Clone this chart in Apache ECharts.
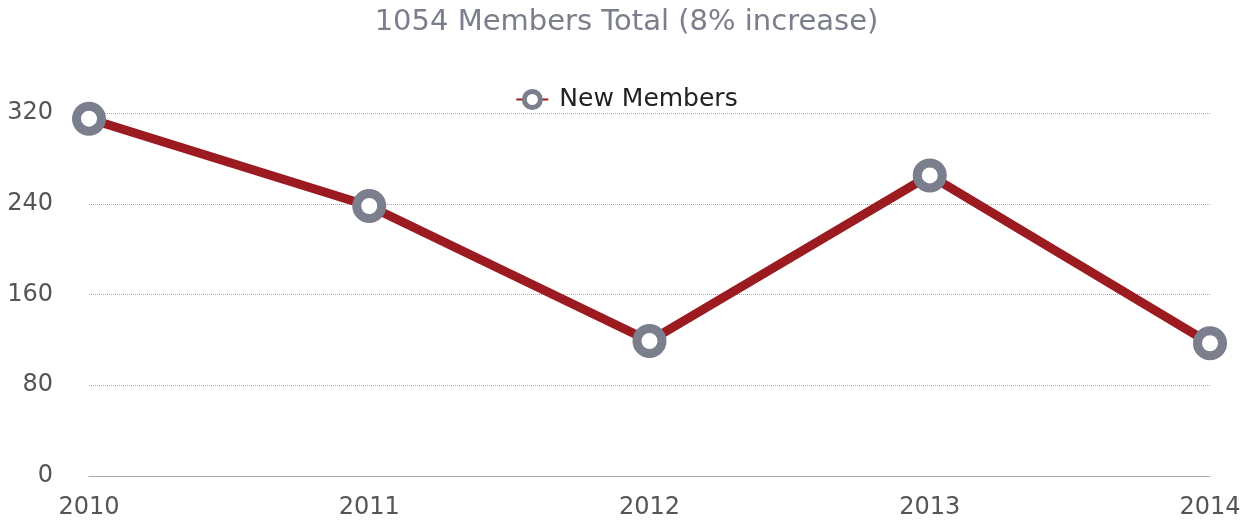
<!DOCTYPE html>
<html>
<head>
<meta charset="utf-8">
<script src="https://cdn.jsdelivr.net/npm/echarts@6/dist/echarts.min.js"></script>
<style>
  html, body { margin: 0; padding: 0; background: #fff; }
  #chart { width: 1253px; height: 527px; }
</style>
</head>
<body>
<div id="chart"></div>
<script>
const years = ["2010", "2011", "2012", "2013", "2014"];
const newMembers = [315, 238, 119, 265, 117];
const yTicks = { min: 0, max: 320, interval: 80 };

const myChart = echarts.init(document.getElementById("chart"));
const option = {
  textStyle: { fontFamily: "'DejaVu Sans', sans-serif" },
  title: {
    text: "1054 Members Total (8% increase)",
    left: "center",
    top: 3,
    textStyle: { color: "#7b7e8c", fontSize: 29, fontWeight: "normal" }
  },
  legend: {
    top: 82,
    left: "center",
    itemWidth: 32,
    itemHeight: 20,
    itemGap: 12,
    textStyle: { color: "#222", fontSize: 25, padding: [0, 0, 0, 6] },
    data: [
      {
        name: "New Members",
        itemStyle: { color: "#fff", borderColor: "#7b7e8c", borderWidth: 5 }
      }
    ]
  },
  grid: { left: 89, right: 43, top: 113, bottom: 51 },
  xAxis: {
    type: "category",
    boundaryGap: false,
    data: years,
    axisLine: { lineStyle: { color: "#aaa", width: 1 } },
    axisTick: { show: false },
    axisLabel: { color: "#555", fontSize: 24, margin: 20 }
  },
  yAxis: {
    type: "value",
    min: yTicks.min,
    max: yTicks.max,
    interval: yTicks.interval,
    axisLine: { show: false },
    axisTick: { show: false },
    axisLabel: { color: "#555", fontSize: 24, margin: 36 },
    splitLine: { lineStyle: { color: "#aaa", type: "dotted", width: 1 } }
  },
  series: [
    {
      name: "New Members",
      type: "line",
      data: newMembers,
      symbol: "circle",
      symbolSize: 25,
      lineStyle: { color: "#9b1b20", width: 9 },
      itemStyle: { color: "#fff", borderColor: "#7b7e8c", borderWidth: 9 },
      emphasis: { disabled: true },
      z: 3
    }
  ]
};
myChart.setOption(option, true);
</script>
</body>
</html>
